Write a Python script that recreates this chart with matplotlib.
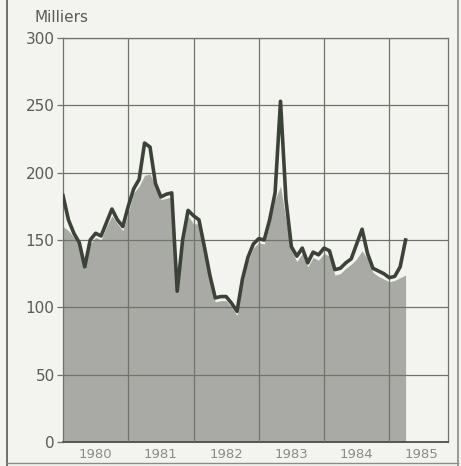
import numpy as np
import matplotlib
matplotlib.use('Agg')
import matplotlib.pyplot as plt
from matplotlib.lines import Line2D

# monthly values, Jan 1980 .. Apr 1985 (milliers)
line_values = [183, 165, 155, 148, 130, 150, 155, 153, 163, 173, 165, 160,
               175, 188, 195, 222, 219, 192, 182, 184, 185, 112, 150, 172,
               168, 165, 145, 124, 107, 108, 108, 103, 97, 121, 137, 147,
               151, 150, 165, 185, 253, 180, 145, 138, 144, 133, 141, 139,
               144, 142, 128, 129, 133, 136, 147, 158, 140, 129, 127, 125,
               122, 123, 130, 150]
area_values = [160, 157, 152, 146, 128, 147, 152, 150, 160, 168, 162, 157,
               170, 185, 190, 198, 199, 190, 180, 181, 182, 110, 146, 168,
               162, 162, 142, 121, 104, 105, 105, 100, 94, 118, 134, 144,
               148, 147, 162, 180, 190, 165, 142, 134, 140, 130, 137, 135,
               140, 138, 124, 125, 129, 132, 136, 142, 136, 126, 123, 121,
               119, 120, 122, 124]
years = [1980, 1981, 1982, 1983, 1984, 1985]
y_ticks = [0, 50, 100, 150, 200, 250, 300]

t = 1980 + np.arange(len(line_values)) / 12.0

bg = '#f3f3ef'
fig = plt.figure(figsize=(4.61, 4.66), dpi=100, facecolor=bg)
ax = fig.add_axes([63/461, 1 - 442/466, (448 - 63)/461, (442 - 38)/466])
ax.set_facecolor(bg)

ax.fill_between(t, 0, area_values, color='#a9aaa6', linewidth=0, zorder=1)
ax.plot(t, line_values, color='#3d4238', linewidth=2.6, solid_joinstyle='round', zorder=3)

ax.set_xlim(1980, 1985.9)
ax.set_ylim(0, 300)

ax.set_yticks(y_ticks)
ax.set_yticklabels([str(v) for v in y_ticks])
ax.set_xticks(years[1:])
ax.set_xticklabels([])
ax.set_xticks([y + 0.5 for y in years], minor=True)
ax.set_xticklabels([str(y) for y in years], minor=True)

ax.grid(True, which='major', color='#6f7368', linewidth=0.9, zorder=2)
ax.set_axisbelow(False)
ax.tick_params(axis='y', length=4, width=0.9, color='#6f7368', labelsize=11,
               labelcolor='#5a5a58', pad=2)
ax.tick_params(axis='x', which='major', length=0)
ax.tick_params(axis='x', which='minor', length=0, labelsize=9.5,
               labelcolor='#8a8a88', pad=4)

for s in ['left', 'right', 'bottom', 'top']:
    ax.spines[s].set_color('#6f7368')
    ax.spines[s].set_linewidth(0.9)
ax.spines['bottom'].set_color('#4a4e46')
ax.spines['bottom'].set_linewidth(1.3)

fig.text(34/461, 1 - 17/466, 'Milliers', fontsize=11, color='#5a5a58',
         va='center', ha='left')

# outer frame of the scanned page
fig.add_artist(Line2D([7/461, 7/461], [0, 1], color='#555a50', linewidth=1.2))
fig.add_artist(Line2D([458/461, 458/461], [0, 1], color='#8a8d85', linewidth=1.2))
fig.add_artist(Line2D([7/461, 458/461], [3/466, 3/466], color='#8a8d85', linewidth=1.0))

fig.savefig('out.png', dpi=100, facecolor=bg)
